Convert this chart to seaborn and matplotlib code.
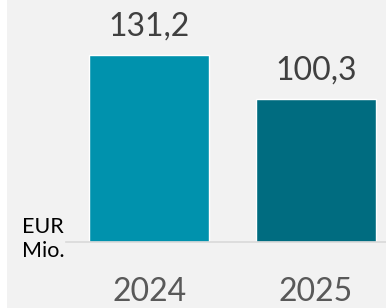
import matplotlib
matplotlib.use('Agg')
import matplotlib.pyplot as plt
import seaborn as sns
import pandas as pd

years = ['2024', '2025']
values = [131.2, 100.3]
labels = ['131,2', '100,3']
colors = ['#0092ad', '#006c80']

sns.set_style('white')
plt.rcParams['font.family'] = ['Lato', 'DejaVu Sans']

df = pd.DataFrame({'year': years, 'value': values})

fig = plt.figure(figsize=(3.86, 3.08), dpi=100, facecolor='#f2f2f2')
# white strip on the left edge
fig.patches.append(plt.Rectangle((0, 0), 7 / 386, 1, transform=fig.transFigure,
                                 facecolor='white', edgecolor='none'))
ax = fig.add_axes([66 / 386, (308 - 242) / 308, 1 - 66 / 386, 242 / 308])
ax.set_facecolor('#f2f2f2')

sns.barplot(data=df, x='year', y='value', hue='year', palette=colors,
            width=0.72, legend=False, ax=ax, saturation=1)

for i, (v, lab) in enumerate(zip(values, labels)):
    ax.text(i, v + 14, lab, ha='center', va='baseline', fontsize=23, color='#404040')

ax.set_xlim(-0.5, 1.42)
ax.set_ylim(0, 170)
ax.set_xlabel('')
ax.set_ylabel('')
ax.set_yticks([])
ax.tick_params(axis='x', length=0, labelsize=23, labelcolor='#595959', pad=25)
for s in ['top', 'right', 'left']:
    ax.spines[s].set_visible(False)
ax.spines['bottom'].set_color('#d9d9d9')
ax.spines['bottom'].set_linewidth(1.2)

fig.text(22 / 386, 1 - 239 / 308, 'EUR\nMio.', ha='left', va='center',
         fontsize=15.5, color='black', linespacing=1.25)

fig.savefig('out.png', dpi=100, facecolor=fig.get_facecolor())
